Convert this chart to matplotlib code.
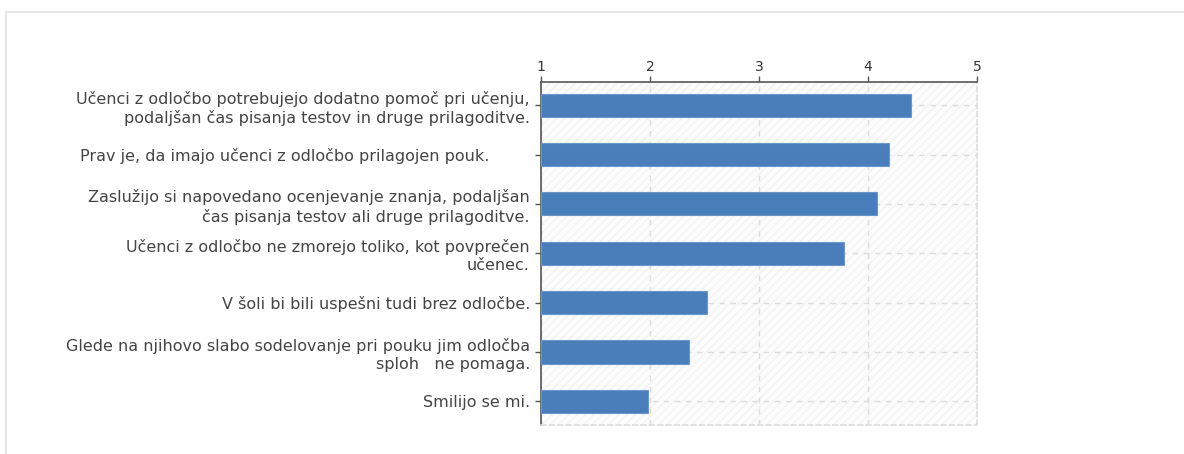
import matplotlib.pyplot as plt
from matplotlib.lines import Line2D

labels = [
    "Učenci z odločbo potrebujejo dodatno pomoč pri učenju,\npodaljšan čas pisanja testov in druge prilagoditve.",
    "Prav je, da imajo učenci z odločbo prilagojen pouk.        ",
    "Zaslužijo si napovedano ocenjevanje znanja, podaljšan\nčas pisanja testov ali druge prilagoditve.",
    "Učenci z odločbo ne zmorejo toliko, kot povprečen\nučenec.",
    "V šoli bi bili uspešni tudi brez odločbe.",
    "Glede na njihovo slabo sodelovanje pri pouku jim odločba\nsploh   ne pomaga.",
    "Smilijo se mi.",
]
values = [4.39, 4.19, 4.08, 3.78, 2.52, 2.36, 1.98]
xticks = [1, 2, 3, 4, 5]

fig = plt.figure(figsize=(11.84, 4.54), dpi=100)

# light frame around the picture
fig.add_artist(Line2D([6/1184, 6/1184], [0, 1 - 12/454], color="#e6e6e6", lw=1.5, transform=fig.transFigure))
fig.add_artist(Line2D([6/1184, 1], [1 - 12/454, 1 - 12/454], color="#e6e6e6", lw=1.5, transform=fig.transFigure))

ax = fig.add_axes([541/1184, 1 - 425/454, 436/1184, 343/454])
ax.set_facecolor("#fcfcfc")
ax.patch.set_hatch("////")
ax.patch.set_edgecolor("#f2f2f2")

ypos = list(range(len(values)))
ax.barh(ypos, [v - 1 for v in values], left=1, height=0.47,
        color="#4a7ebb", edgecolor="#6b97cf", linewidth=0.8, zorder=3)

ax.set_xlim(1, 5)
ax.set_ylim(len(values) - 0.52, -0.47)
ax.set_xticks(xticks)
ax.set_yticks(ypos)
ax.set_yticklabels(labels, fontsize=11.5, color="#444444", linespacing=1.25)

ax.xaxis.tick_top()
ax.tick_params(axis="x", direction="out", length=4, width=1, color="#555555",
               labelsize=10, labelcolor="#333333", pad=2)
ax.tick_params(axis="y", direction="out", length=4, width=1, color="#555555", pad=4)

for s in ["top", "left"]:
    ax.spines[s].set_color("#555555")
    ax.spines[s].set_linewidth(1.2)
for s in ["right", "bottom"]:
    ax.spines[s].set_color("#dddddd")
    ax.spines[s].set_linestyle((0, (3, 2)))
    ax.spines[s].set_linewidth(1.2)

ax.grid(True, color="#dcdcdc", linestyle=(0, (4, 4)), linewidth=1, zorder=1)
ax.set_axisbelow(True)

fig.savefig("out.png", dpi=100)
